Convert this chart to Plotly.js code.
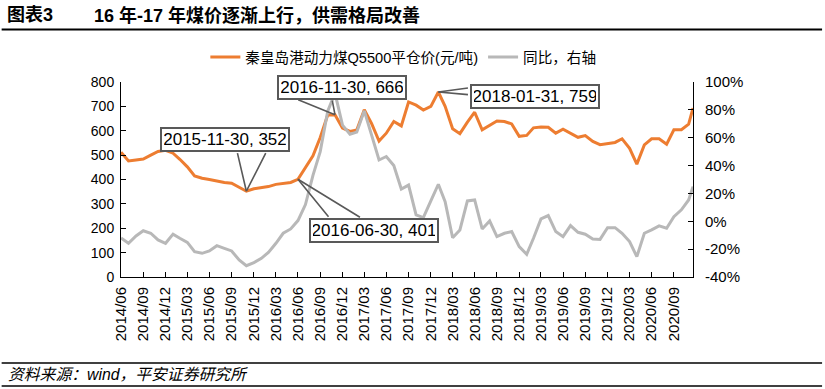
<!DOCTYPE html>
<html><head><meta charset="utf-8">
<script src="https://cdn.plot.ly/plotly-3.0.1.min.js"></script>
<style>html,body{margin:0;padding:0;background:#fff;}#chart{width:825px;height:389px;}</style>
</head><body><div id="chart"></div>
<script>
// monthly categories (month-end observations) and one final mid-December point
const months = [
'2014-06','2014-07','2014-08','2014-09','2014-10','2014-11','2014-12',
'2015-01','2015-02','2015-03','2015-04','2015-05','2015-06','2015-07','2015-08','2015-09','2015-10','2015-11','2015-12',
'2016-01','2016-02','2016-03','2016-04','2016-05','2016-06','2016-07','2016-08','2016-09','2016-10','2016-11','2016-12',
'2017-01','2017-02','2017-03','2017-04','2017-05','2017-06','2017-07','2017-08','2017-09','2017-10','2017-11','2017-12',
'2018-01','2018-02','2018-03','2018-04','2018-05','2018-06','2018-07','2018-08','2018-09','2018-10','2018-11','2018-12',
'2019-01','2019-02','2019-03','2019-04','2019-05','2019-06','2019-07','2019-08','2019-09','2019-10','2019-11','2019-12',
'2020-01','2020-02','2020-03','2020-04','2020-05','2020-06','2020-07','2020-08','2020-09','2020-10','2020-11'];
const lastDate = '2020-12-18';

// 秦皇岛港动力煤Q5500平仓价 (元/吨)
const price = [
512,476,480,484,500,515,520,508,483,452,
415,405,400,393,388,385,368,352,362,367,
371,380,384,388,401,450,497,572,665,666,
611,597,603,686,630,558,590,638,620,718,
705,685,700,759,700,608,588,635,676,604,
622,640,638,628,577,581,612,615,614,590,
606,591,573,580,556,543,548,552,567,528,
463,542,567,567,545,604,604,627,693];

// 同比 (%)
const yoy = [
-12,-15.8,-10.5,-6.8,-8.6,-13.4,-15.8,-9.2,-12.2,-15.1,
-21.8,-23,-21.3,-17.5,-19.4,-21.3,-27.8,-31.9,-29.7,-26.6,
-22.3,-15.8,-8.6,-5.5,0.5,12,33,50,79,92,
69,62.5,64,79.3,62,44,46.5,40,23.2,26,
4.6,2.6,14.6,26.6,14.1,-11.8,-6.2,14.6,15.3,-5.5,
0.2,-11,-8.6,-7.4,-18.2,-23.7,-12.2,1.7,4.1,-7.4,
-11,-3.1,-7.9,-9.3,-12.7,-13,-4.6,-4.6,-8.6,-14.6,
-25.4,-8.6,-6.2,-3.3,-5,3.3,8.2,15.3,24.9];

const xTickLabels = ['2014/06','2014/09','2014/12','2015/03','2015/06','2015/09','2015/12','2016/03','2016/06','2016/09','2016/12','2017/03','2017/06','2017/09','2017/12','2018/03','2018/06','2018/09','2018/12','2019/03','2019/06','2019/09','2019/12','2020/03','2020/06','2020/09'];
const leftTicks = [0,100,200,300,400,500,600,700,800];
const rightTicks = [-40,-20,0,20,40,60,80,100];
const rightTickText = ['-40%','-20%','0%','20%','40%','60%','80%','100%'];

const seriesNames = ['秦皇岛港动力煤Q5500平仓价(元/吨)','同比，右轴'];
const callouts = [
  {idx:17, text:'2015-11-30, 352'},
  {idx:29, text:'2016-11-30, 666'},
  {idx:24, text:'2016-06-30, 401'},
  {idx:43, text:'2018-01-31, 759'}
];
// callout layout (pixel offsets from the data point)
const calloutPos = [
  {dx:-21.6, dy:52.1, w:[[-9.3,-39.6],[20.1,-39.6]]},
  {dx:6.9, dy:27.6, w:[[-38.3,-15.5],[-3,-15.5]]},
  {dx:75.8, dy:-51.4, w:[[31.8,38.9],[63.5,38.9]]},
  {dx:97.1, dy:-4.5, w:[[31.1,-4.2],[31.1,2.8]]}
];

function monthEnd(ym){
  const p = ym.split(/[-\/]/).map(Number);
  return new Date(Date.UTC(p[0], p[1], 0)).toISOString().slice(0,10);
}
const x = months.map(monthEnd).concat([lastDate]);
const tickvals = xTickLabels.map(monthEnd);

const FONT = 'Liberation Sans, Arial, Noto Sans CJK SC, sans-serif';

const traces = [
  {x:x, y:price, name:seriesNames[0], type:'scatter', mode:'lines', yaxis:'y',
   line:{color:'#ED7D31', width:3}, hoverinfo:'skip'},
  {x:x, y:yoy, name:seriesNames[1], type:'scatter', mode:'lines', yaxis:'y2',
   line:{color:'#B8B8B8', width:3}, hoverinfo:'skip'}
];

const L = 121.3, R = 693, T = 82, B = 277, W = 825, H = 389;
const pw = R - L, ph = B - T;
const px = v => (v - L) / pw;
const py = v => (B - v) / ph;

const annotations = [
  {xref:'paper', yref:'paper', x:px(5), y:py(15), xanchor:'left', yanchor:'middle', showarrow:false,
   text:'<b>图表3</b>', font:{family:FONT, size:18, color:'#000'}},
  {xref:'paper', yref:'paper', x:px(92), y:py(15), xanchor:'left', yanchor:'middle', showarrow:false,
   text:'<b>16 年-17 年煤价逐渐上行，供需格局改善</b>', font:{family:FONT, size:18, color:'#000'}},
  {xref:'paper', yref:'paper', x:px(6), y:py(374), xanchor:'left', yanchor:'middle', showarrow:false,
   text:'<i>资料来源：wind，平安证券研究所</i>', font:{family:FONT, size:15.8, color:'#000'}}
];
callouts.forEach((c, k) => {
  const pos = calloutPos[k];
  pos.w.forEach(o => annotations.push({
    xref:'x', yref:'y', x:x[c.idx], y:price[c.idx], ax:o[0], ay:o[1], axref:'pixel', ayref:'pixel',
    text:'', showarrow:true, arrowhead:0, arrowwidth:1.6, arrowcolor:'#595959', standoff:0
  }));
});
callouts.forEach((c, k) => {
  const pos = calloutPos[k];
  annotations.push({
    xref:'x', yref:'y', x:x[c.idx], y:price[c.idx], xshift:pos.dx, yshift:pos.dy,
    xanchor:'center', yanchor:'middle', showarrow:false, text:c.text,
    font:{family:FONT, size:17, color:'#000'}, bgcolor:'#fff', bordercolor:'#595959',
    borderwidth:2, borderpad:2, width:122, height:17
  });
});

const shapes = [
  {type:'line', xref:'paper', yref:'paper', x0:px(2), x1:px(822), y0:py(29.5), y1:py(29.5), line:{color:'#000', width:2}},
  {type:'line', xref:'paper', yref:'paper', x0:px(2), x1:px(822), y0:py(363), y1:py(363), line:{color:'#000', width:1.5}},
  {type:'line', xref:'paper', yref:'paper', x0:px(2), x1:px(822), y0:py(386), y1:py(386), line:{color:'#000', width:1.5}}
];

const axisCommon = {showgrid:false, zeroline:false, showline:true, linecolor:'#000', linewidth:1,
  ticks:'inside', ticklen:5, tickwidth:1, tickcolor:'#000', fixedrange:true};

const layout = {
  width:W, height:H, margin:{l:L, r:W-R, t:T, b:H-B, pad:0},
  paper_bgcolor:'#fff', plot_bgcolor:'#fff',
  font:{family:FONT, size:14, color:'#000'},
  showlegend:true,
  legend:{orientation:'h', x:px(403.5), xanchor:'center', y:py(57), yanchor:'middle',
    font:{family:FONT, size:14.6, color:'#000'}, bgcolor:'rgba(0,0,0,0)'},
  xaxis:Object.assign({}, axisCommon, {type:'date', range:[x[0], lastDate], tickmode:'array',
    tickvals:tickvals, ticktext:xTickLabels, tickangle:-90, ticklabelstandoff:3,
    tickfont:{family:FONT, size:15, color:'#000'}}),
  yaxis:Object.assign({}, axisCommon, {range:[0,800], tickmode:'array', tickvals:leftTicks,
    ticklabelstandoff:3, tickfont:{family:FONT, size:14, color:'#000'}}),
  yaxis2:Object.assign({}, axisCommon, {range:[-40,100], overlaying:'y', side:'right', tickmode:'array',
    tickvals:rightTicks, ticktext:rightTickText, ticklabelstandoff:8,
    tickfont:{family:FONT, size:15, color:'#000'}}),
  annotations:annotations, shapes:shapes, hovermode:false
};

Plotly.newPlot('chart', traces, layout, {displayModeBar:false, staticPlot:true});
</script>
</body></html>
